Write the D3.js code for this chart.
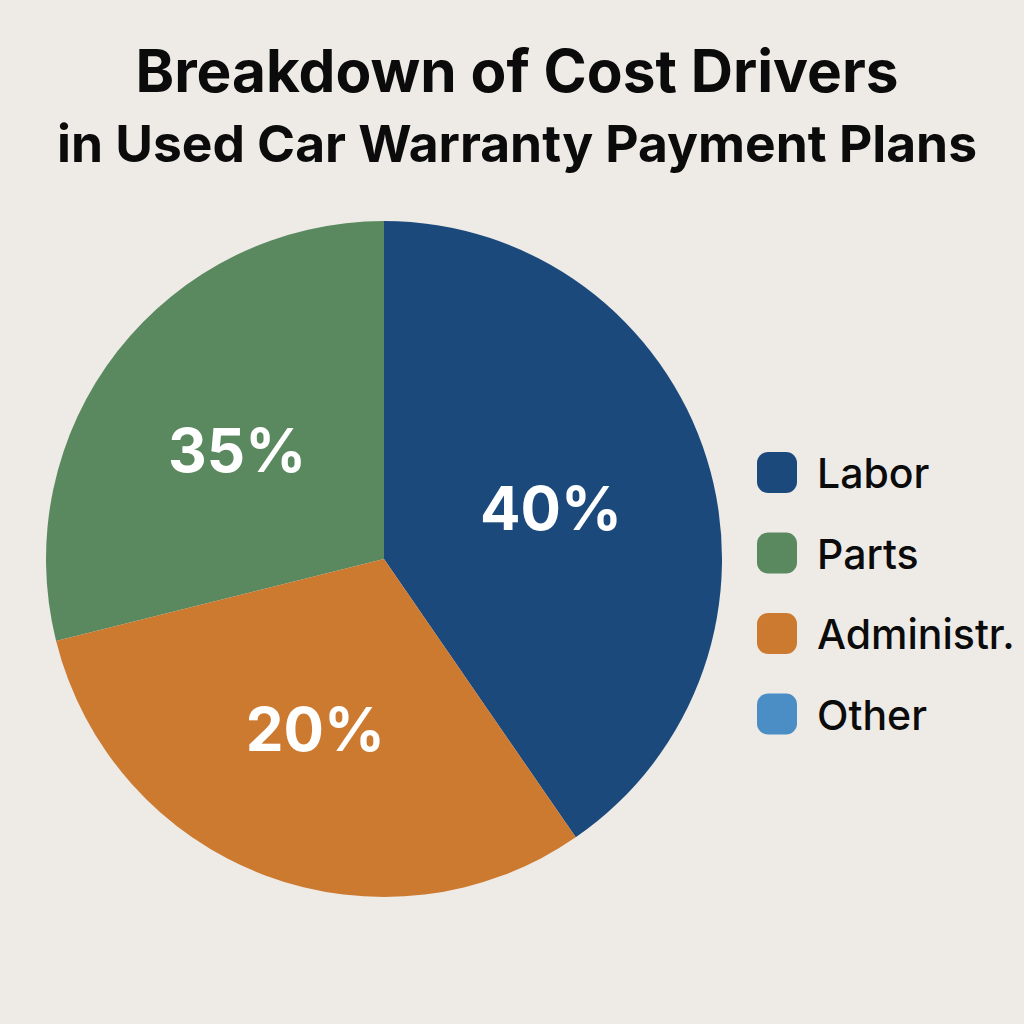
<!DOCTYPE html>
<html><head><meta charset="utf-8">
<script src="https://cdn.jsdelivr.net/npm/d3@7"></script>
<style>html,body{margin:0;padding:0;background:#EEEBE7;}svg{display:block;}</style>
</head><body>
<svg id="chart" width="1024" height="1024"></svg>
<script>
// Data (legend order)
const categories = ["Labor", "Parts", "Administr.", "Other"];
// Shares as drawn (slice angles)
const sliceShares = [40.4, 28.9, 30.7, 0];
// Percent labels as printed on the slices
const sliceLabels = ["40%", "35%", "20%", ""];
// Clockwise drawing order starting at 12 o'clock
const drawOrder = ["Labor", "Administr.", "Parts", "Other"];
const colors = ["#1B497B", "#5A8960", "#CD7A31", "#4B8DC5"];
const titleLines = ["Breakdown of Cost Drivers", "in Used Car Warranty Payment Plans"];

const svg = d3.select("#chart");
svg.append("rect").attr("width",1024).attr("height",1024).attr("fill","#EEEBE7");

const font = "Inter, 'Noto Sans', 'DejaVu Sans', sans-serif";

const titleSizes = [58.5, 51.5];
svg.selectAll("text.title").data(titleLines).join("text")
  .attr("class","title")
  .attr("x", 517).attr("y", (d,i) => 92 + i*70)
  .attr("text-anchor","middle")
  .attr("font-family", font).attr("font-weight", 700)
  .attr("font-size", (d,i) => titleSizes[i]).attr("fill","#0b0b0b")
  .text(d => d);

const data = categories.map((c,i) => ({cat:c, value:sliceShares[i], label:sliceLabels[i], color:colors[i]}));
const cx = 384, cy = 559, r = 338;
const pie = d3.pie().value(d => d.value)
  .sort((a,b) => drawOrder.indexOf(a.cat) - drawOrder.indexOf(b.cat));
const arcs = pie(data);
const arc = d3.arc().innerRadius(0).outerRadius(r);
const labelArc = d3.arc().innerRadius(180).outerRadius(180);

const g = svg.append("g").attr("transform", `translate(${cx},${cy})`);
g.selectAll("path").data(arcs.filter(d => d.value > 0)).join("path")
  .attr("d", arc).attr("fill", d => d.data.color);
g.selectAll("text").data(arcs.filter(d => d.value > 0)).join("text")
  .attr("transform", d => { const c = labelArc.centroid(d); return `translate(${c[0]-5},${c[1]+24})`; })
  .attr("text-anchor","middle")
  .attr("font-family", font).attr("font-weight", 700).attr("font-size", 60)
  .attr("fill","#ffffff")
  .text(d => d.data.label);

const leg = svg.append("g").attr("transform","translate(757,452)");
const item = leg.selectAll("g").data(data).join("g")
  .attr("transform", (d,i) => `translate(0,${i*80.5})`);
item.append("rect").attr("width",40).attr("height",41).attr("rx",11)
  .attr("fill", d => d.color);
item.append("text").attr("x",60).attr("y",36)
  .attr("font-family", font).attr("font-weight", 500).attr("font-size", 41)
  .attr("fill","#0b0b0b").text(d => d.cat);
</script>
</body></html>
